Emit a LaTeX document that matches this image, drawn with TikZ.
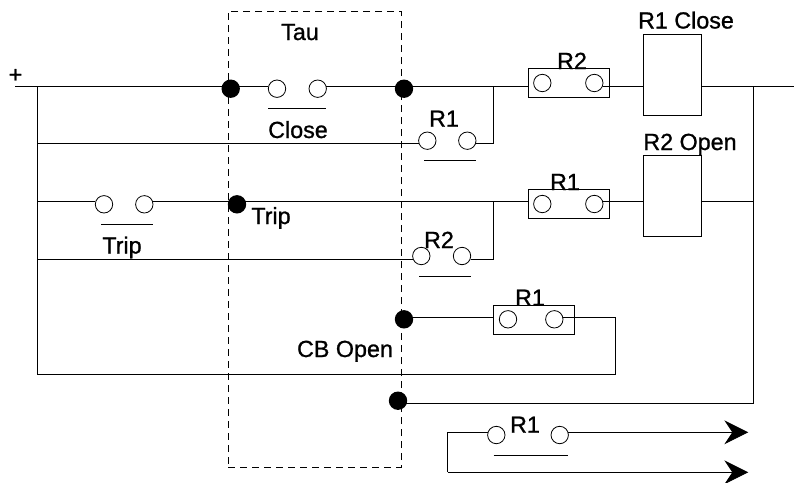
\documentclass[tikz,border=0pt]{standalone}
\usepackage{fontspec}
\setmainfont{Liberation Sans}
\newfontfamily\labfont[FakeBold=1]{Liberation Sans}
\usetikzlibrary{arrows.meta}
\tikzset{
   wire/.style={line width=0.9pt},
   contact/.style={circle,draw,line width=0.8pt,minimum size=17.4pt,inner sep=0pt,outer sep=0pt},
   junction/.style={circle,fill=black,minimum size=18.4pt,inner sep=0pt,outer sep=0pt},
   relaybox/.style={draw,line width=0.9pt,minimum width=81pt,minimum height=29pt,inner sep=0pt,outer sep=0pt},
   coil/.style={draw,line width=0.9pt,minimum width=58pt,minimum height=81pt,inner sep=0pt,outer sep=0pt},
   lab/.style={anchor=base,inner sep=0pt,font=\labfont\fontsize{23.3}{25}\selectfont},
   taubox/.style={draw,line width=0.8pt,dash pattern=on 7pt off 5pt,minimum width=173pt,minimum height=456pt,inner sep=0pt,outer sep=0pt},
   bigarrow/.style={-{Stealth[length=24pt,width=24pt,inset=8pt]}}
}
\begin{document}
\begin{tikzpicture}[x=1pt,y=-1pt]
   \useasboundingbox (0,0) rectangle (799,482);
   \node[taubox] (tauframe) at (314.7,239) {};

   % row coordinates
   \coordinate (plusend) at (15,86);
   \coordinate (railtop) at (37.3,86);
   \coordinate (railA) at (37.3,143.7);
   \coordinate (railB) at (37.3,201.3);
   \coordinate (railC) at (37.3,259);
   \coordinate (railD) at (37.3,374.3);
   \coordinate (bypassA) at (493.7,86);
   \coordinate (bypassB) at (493.7,201.3);
   \coordinate (rightend) at (794,86);
   \coordinate (returnA) at (753.3,86);
   \coordinate (returnB) at (753.3,201.3);
   \coordinate (returnC) at (753.3,403.3);
   \coordinate (loopA) at (615,374.3);
   \coordinate (loopB) at (615,317);
   \coordinate (outA) at (447.7,432.3);
   \coordinate (outB) at (447.7,472.3);
   \coordinate (tipA) at (748.3,432.3);
   \coordinate (tipB) at (748.3,472.3);

   % junctions
   \node[junction] (dotA) at (230.7,88.7) {};
   \node[junction] (dotB) at (404,88.7) {};
   \node[junction] (dotC) at (237,204.3) {};
   \node[junction] (dotD) at (404,319.3) {};
   \node[junction] (dotE) at (398,400.7) {};

   % contacts
   \node[contact] (closeL) at (277,88.7) {};
   \node[contact] (closeR) at (317.7,88.7) {};
   \node[contact] (rowAL) at (427.3,140.7) {};
   \node[contact] (rowAR) at (467.3,140.7) {};
   \node[contact] (tripL) at (104,204.3) {};
   \node[contact] (tripR) at (144.3,204.3) {};
   \node[contact] (rowCL) at (421.3,256) {};
   \node[contact] (rowCR) at (462,256) {};
   \node[contact] (outL) at (496.3,435) {};
   \node[contact] (outR) at (559.7,435) {};

   % relay boxes
   \node[relaybox] (boxRtwo) at (569,83) {};
   \node[contact] (boxRtwoL) at (542.3,83) {};
   \node[contact] (boxRtwoR) at (594.3,83) {};
   \node[relaybox] (boxRone) at (569,204.2) {};
   \node[contact] (boxRoneL) at (542.3,204) {};
   \node[contact] (boxRoneR) at (594.3,204) {};
   \node[relaybox] (boxCB) at (534,319.8) {};
   \node[contact] (boxCBL) at (508,319.3) {};
   \node[contact] (boxCBR) at (554.3,319.3) {};
   \node[coil] (coilClose) at (672.7,74.5) {};
   \node[coil] (coilOpen) at (672.7,195.6) {};

   % wiring
   \draw[wire] (plusend) -- (railtop -| dotA);
   \draw[wire] (railtop -| dotA) -- (railtop -| closeL.west);
   \draw[wire] (railtop -| closeR.east) -- (railtop -| dotB);
   \draw[wire] (railtop -| dotB) -- (railtop -| boxRtwo.west);
   \draw[wire] (boxRtwoR.east |- railtop) -- (railtop -| coilClose.west);
   \draw[wire] (railtop -| coilClose.east) -- (rightend);
   \draw[wire] (railtop) -- (railD) -- (loopA) -- (loopB) -- (boxCBR.east |- loopB);
   \draw[wire] (railA) -- (railA -| rowAL.west);
   \draw[wire] (railA -| rowAR.east) -- (railA -| bypassA) -- (bypassA);
   \draw[wire] (railB) -- (railB -| tripL.west);
   \draw[wire] (railB -| tripR.east) -- (railB -| dotC);
   \draw[wire] (railB -| dotC) -- (railB -| boxRone.west);
   \draw[wire] (boxRoneR.east |- railB) -- (railB -| coilOpen.west);
   \draw[wire] (railB -| coilOpen.east) -- (returnB);
   \draw[wire] (bypassB) -- (railC -| bypassB) -- (railC -| rowCR.east);
   \draw[wire] (railC) -- (railC -| rowCL.west);
   \draw[wire] (loopB -| dotD) -- (loopB -| boxCB.west);
   \draw[wire] (returnA) -- (returnC) -- (returnC -| dotE);
   \draw[wire] (outL.west |- outA) -- (outA) -- (outB);
   \draw[wire,bigarrow] (outB) -- (tipB);
   \draw[wire,bigarrow] (outR.east |- outA) -- (tipA);

   % bars over the labels
   \draw[wire] (268.3,108.7) coordinate (barCloseL) -- (326.3,108.7) coordinate (barCloseR);
   \draw[wire] (424.3,160.7) coordinate (barAL) -- (476,160.7) coordinate (barAR);
   \draw[wire] (101,224.3) coordinate (barTripL) -- (153,224.3) coordinate (barTripR);
   \draw[wire] (419,276.3) coordinate (barCL) -- (470.7,276.3) coordinate (barCR);
   \draw[wire] (493.7,455) coordinate (barOutL) -- (568.3,455) coordinate (barOutR);

   % labels
   \node[lab] (plus) at (15.5,82.5) {+};
   \node[lab] (tauLab) at (300,40) {Tau};
   \node[lab] (closeLab) at (298,138) {Close};
   \node[lab] (tripLabA) at (271,224) {Trip};
   \node[lab] (tripLabB) at (122,253.5) {Trip};
   \node[lab] (cbLab) at (345,357) {CB Open};
   \node[lab] (coilCloseLab) at (686,28.5) {R1 Close};
   \node[lab] (coilOpenLab) at (690,150) {R2 Open};
   \node[lab] (rtwoLab) at (572,69) {R2};
   \node[lab] (roneLab) at (565,190) {R1};
   \node[lab] (rowALab) at (444,126.7) {R1};
   \node[lab] (rowCLab) at (439,248) {R2};
   \node[lab] (cbrLab) at (530,305.7) {R1};
   \node[lab] (outLab) at (525,432.7) {R1};
\end{tikzpicture}
\end{document}
